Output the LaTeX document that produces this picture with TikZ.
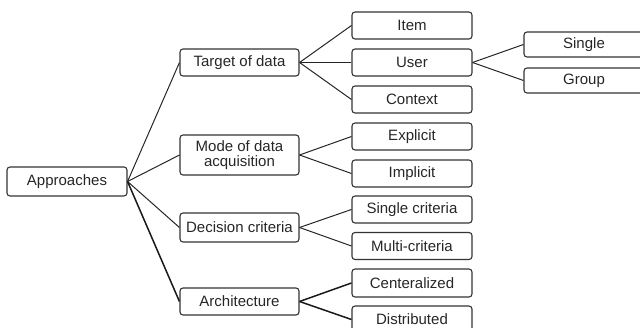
\documentclass[tikz,border=0pt]{standalone}
\usepackage{fontspec}
\setmainfont{Liberation Sans}
\begin{document}
\begin{tikzpicture}[x=1pt,y=-1pt,
  box/.style={draw=black!80,line width=1.1pt,rounded corners=3pt,inner sep=0pt,
    text=black!85,font=\fontsize{15}{17}\selectfont,align=center,
    minimum width=#1,minimum height=27pt},
  box/.default=120pt,
  conn/.style={draw=black!85,line width=1pt},
  thick conn/.style={draw=black!90,line width=1.5pt}]
\useasboundingbox (0,0) rectangle (640,328);
\clip (0,0) rectangle (640,328);
\node[box=120pt,minimum height=29pt] (app) at (67,181.5) {Approaches};
\node[box=119pt] (tgt) at (239.5,62.5) {Target of data};
\node[box=119pt,minimum height=40pt] (mode) at (239.5,155) {Mode of data\\[-2pt]acquisition};
\node[box=119pt,minimum height=29pt] (dec) at (239.5,227.5) {Decision criteria};
\node[box=119pt] (arch) at (239.5,301.5) {Architecture};
\node[box] (item) at (412,25.5) {Item};
\node[box] (user) at (412,62.5) {User};
\node[box] (ctx) at (412,99.5) {Context};
\node[box] (expl) at (412,136.5) {Explicit};
\node[box] (impl) at (412,173.5) {Implicit};
\node[box] (sc) at (412,209.5) {Single criteria};
\node[box] (mc) at (412,246) {Multi-criteria};
\node[box,minimum height=28pt] (cen) at (412,283) {Centeralized};
\node[box] (dist) at (412,319.5) {Distributed};
\node[box,minimum height=25pt] (single) at (584,44.5) {Single};
\node[box,minimum height=25pt] (group) at (584,80.5) {Group};
\draw[conn] (app.east) -- (tgt.west);
\draw[conn] (app.east) -- (mode.west);
\draw[conn] (app.east) -- (dec.west);
\draw[thick conn] (app.east) -- (arch.west);
\draw[conn] (tgt.east) -- (item.west);
\draw[conn] (tgt.east) -- (user.west);
\draw[conn] (tgt.east) -- (ctx.west);
\draw[conn] (mode.east) -- (expl.west);
\draw[conn] (mode.east) -- (impl.west);
\draw[conn] (dec.east) -- (sc.west);
\draw[conn] (dec.east) -- (mc.west);
\draw[thick conn] (arch.east) -- (cen.west);
\draw[thick conn] (arch.east) -- (dist.west);
\draw[conn] (user.east) -- (single.west);
\draw[conn] (user.east) -- (group.west);
\end{tikzpicture}
\end{document}
